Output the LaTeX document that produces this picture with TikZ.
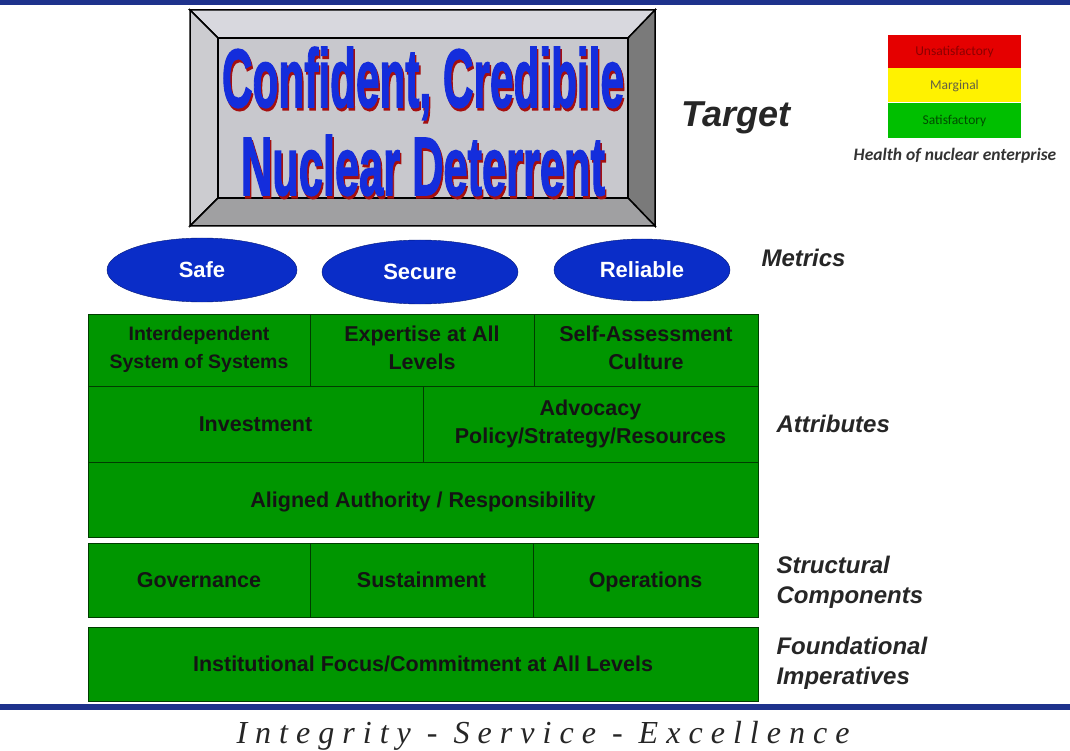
\documentclass[tikz,border=0pt]{standalone}
\usepackage{fontspec}
\setmainfont{Liberation Sans}
\newfontfamily\legfont{Carlito}
\newfontfamily\titlefont[BoldFeatures={FakeBold=2}]{Liberation Sans}
\newfontfamily\footfont[LetterSpace=25]{Liberation Serif}
\usetikzlibrary{shapes.geometric}
\definecolor{navyline}{RGB}{30,50,140}
\definecolor{blockgreen}{RGB}{0,150,0}
\definecolor{ellblue}{RGB}{10,45,200}
\definecolor{titleblue}{RGB}{20,45,220}
\definecolor{titlered}{RGB}{165,15,15}
\definecolor{bevtop}{RGB}{216,216,222}
\definecolor{bevleft}{RGB}{204,204,208}
\definecolor{bevright}{RGB}{122,122,122}
\definecolor{bevbottom}{RGB}{160,160,162}
\definecolor{bevface}{RGB}{200,200,205}
% struts for the cell texts
\newcommand{\cellstrut}{\rule[-5pt]{0pt}{25pt}}
\newcommand{\topstrut}{\rule[-5pt]{0pt}{31pt}}
\tikzset{
  blk/.style={draw=black!60!blockgreen, fill=blockgreen, line width=0.9pt, inner sep=0pt,
    align=center, text=black!92, font=\fontsize{21.5}{28}\selectfont\bfseries,
    execute at begin node=\cellstrut, execute at end node=\cellstrut},
  toprow/.style={blk, minimum height=72, execute at begin node=\topstrut},
  metric/.style={ellipse, draw=ellblue!60!black, fill=ellblue, inner sep=0pt,
    text=white, font=\fontsize{22}{24}\selectfont\bfseries},
  lbl/.style={anchor=west, align=left, text=black!85, font=\fontsize{24}{30}\selectfont\bfseries\itshape},
  leg/.style={minimum width=133, inner sep=0pt, font=\legfont\fontsize{13.5}{15}\selectfont},
  bevel/.style={draw=black, line width=1.5pt}
}
% title line with its red drop shadow
\newcommand{\titleline}[2]{\resizebox{#1}{60pt}{\titlefont\bfseries
  \makebox[0pt][l]{\hspace{0.35pt}\raisebox{-0.35pt}{\color{titlered}#2}}#2}}

\begin{document}
\begin{tikzpicture}[x=1pt,y=-1pt]
  \useasboundingbox[fill=white] (0,0) rectangle (1070,751);
  % rules at top and bottom
  \draw[navyline, line width=5pt] (0,3) -- (1070,3);
  \draw[navyline, line width=6pt] (0,707) -- (1070,707);
  % bevelled target frame
  \filldraw[bevel, fill=bevtop] (190,10) -- (655,10) -- (628,38) -- (218,38) -- cycle;
  \filldraw[bevel, fill=bevleft] (190,10) -- (218,38) -- (218,198) -- (190,226) -- cycle;
  \filldraw[bevel, fill=bevright] (655,10) -- (655,226) -- (628,198) -- (628,38) -- cycle;
  \filldraw[bevel, fill=bevbottom] (190,226) -- (655,226) -- (628,198) -- (218,198) -- cycle;
  \filldraw[bevel, fill=bevface] (218,38) rectangle (628,198);
  \node[anchor=base, text=titleblue] (conf) at (423,107) {\titleline{402pt}{Confident, Credibile}};
  \node[anchor=base, text=titleblue] (nucl) at (423,195) {\titleline{364pt}{Nuclear Deterrent}};
  \node[lbl, font=\fontsize{36}{40}\selectfont\bfseries\itshape] (target) at (678,118) {Target};
  % health legend
  \node[leg, fill=red!90!black, minimum height=33, text=red!55!black] (unsat) at (954.5,51.5) {Unsatisfactory};
  \node[leg, fill=yellow, minimum height=34, text=black!70!yellow] (marg) at (954.5,85.5) {Marginal};
  \node[leg, fill=green!75!black, minimum height=35, text=black!70!green] (satis) at (954.5,120.5) {Satisfactory};
  \node[font=\legfont\fontsize{17.5}{19}\selectfont\bfseries\itshape, text=black!80] (health) at (955,156) {Health of nuclear enterprise};
  % metrics
  \node[metric, minimum width=190, minimum height=64] (safe) at (202,270) {Safe};
  \node[metric, minimum width=196, minimum height=64] (secure) at (420,272) {Secure};
  \node[metric, minimum width=176, minimum height=62] (reliable) at (642,270) {Reliable};
  \node[lbl] (metrics) at (758,258) {Metrics};
  % attributes
  \node[toprow, minimum width=222, font=\fontsize{19.5}{28}\selectfont\bfseries] (sys) at (199,350) {Interdependent\\System of Systems};
  \node[toprow, minimum width=224] (expert) at (422,350) {Expertise at All\\Levels};
  \node[toprow, minimum width=224] (selfa) at (646,350) {Self-Assessment\\Culture};
  \node[blk, minimum width=335, minimum height=76] (invest) at (255.5,424) {Investment};
  \node[blk, minimum width=335, minimum height=76] (advoc) at (590.5,424) {Advocacy\\Policy/Strategy/Resources};
  \node[blk, minimum width=670, minimum height=75] (align) at (423,499.5) {Aligned Authority / Responsibility};
  \node[lbl] (attrib) at (773,424) {Attributes};
  % structural components
  \node[blk, minimum width=222, minimum height=74] (gov) at (199,580) {Governance};
  \node[blk, minimum width=223, minimum height=74] (sust) at (421.5,580) {Sustainment};
  \node[blk, minimum width=225, minimum height=74] (oper) at (645.5,580) {Operations};
  \node[lbl] (struct) at (773,582) {Structural\\Components};
  % foundational imperatives
  \node[blk, minimum width=670, minimum height=74] (inst) at (423,664) {Institutional Focus/Commitment at All Levels};
  \node[lbl] (found) at (773,663) {Foundational\\Imperatives};
  % motto
  \node[text=black!85] (motto) at (543,736) {\resizebox{613pt}{!}{\footfont\itshape Integrity - Service - Excellence}};
\end{tikzpicture}
\end{document}
